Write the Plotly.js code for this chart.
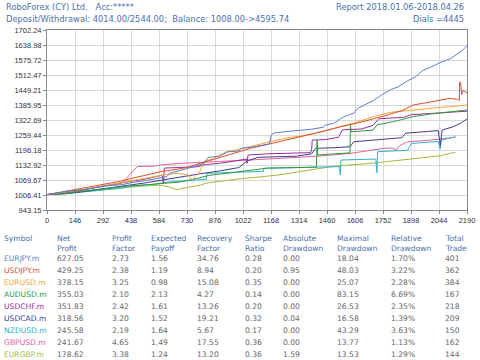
<!DOCTYPE html>
<html><head><meta charset="utf-8">
<script src="https://cdn.plot.ly/plotly-3.0.1.min.js"></script>
<style>html,body{margin:0;padding:0;background:#fff}#c{width:480px;height:360px}</style>
</head><body><div id="c"></div>
<script>
// ---- data ----
const symbols = ["EURJPY.m","USDJPY.m","EURUSD.m","AUDUSD.m","USDCHF.m","USDCAD.m","NZDUSD.m","GBPUSD.m","EURGBP.m"];
const netProfit = ["627.05","429.25","378.15","355.03","351.83","318.56","245.58","241.67","178.62"];
const profitFactor = ["2.73","2.38","3.25","2.10","2.42","3.20","2.19","4.65","3.38"];
const expectedPayoff = ["1.56","1.19","0.98","2.13","1.61","1.52","1.64","1.49","1.24"];
const recoveryFactor = ["34.76","8.94","15.08","4.27","13.26","19.21","5.67","17.55","13.20"];
const sharpeRatio = ["0.28","0.20","0.35","0.14","0.20","0.32","0.17","0.36","0.36"];
const absoluteDrawdown = ["0.00","0.95","0.00","0.00","0.00","0.04","0.00","0.00","1.59"];
const maximalDrawdown = ["18.04","48.03","25.07","83.15","26.53","16.58","43.29","13.77","13.53"];
const relativeDrawdown = ["1.70%","3.22%","2.28%","6.69%","2.35%","1.39%","3.63%","1.13%","1.29%"];
const totalTrade = ["401","362","384","167","218","209","150","162","144"];
const headers = ["Symbol","Net<br>Profit","Profit<br>Factor","Expected<br>Payoff","Recovery<br>Factor","Sharpe<br>Ratio","Absolute<br>Drawdown","Maximal<br>Drawdown","Relative<br>Drawdown","Total<br>Trade"];

const xTicks = [0,146,292,438,584,730,876,1022,1168,1314,1460,1606,1752,1898,2044,2190];
const yTicks = [943.15,1006.41,1069.67,1132.92,1196.18,1259.44,1322.69,1385.95,1449.21,1512.47,1575.72,1638.98,1702.24];

const eurjpyX = [0,60,120,180,250,320,390,450,520,590,625,640,700,760,820,840,900,940,1000,1010,1080,1160,1170,1185,1250,1320,1380,1440,1450,1500,1530,1560,1600,1620,1660,1700,1740,1790,1830,1880,1920,1960,2000,2050,2100,2140,2160,2190];
const eurjpyY = [1008,1016,1024,1028,1036,1046,1050,1060,1068,1078,1084,1098,1110,1125,1140,1165,1170,1188,1192,1203,1210,1222,1260,1268,1274,1279,1284,1292,1300,1310,1328,1340,1352,1372,1388,1404,1426,1450,1462,1488,1504,1532,1545,1565,1580,1600,1612,1636];

const usdjpyX = [0,80,160,240,300,380,450,520,560,600,680,740,800,880,960,1060,1140,1220,1300,1356,1440,1529,1620,1720,1780,1850,1910,1980,2040,2100,2140,2150,2152,2158,2162,2170,2190];
const usdjpyY = [1008,1020,1032,1042,1050,1064,1078,1092,1100,1106,1115,1125,1140,1160,1180,1203,1218,1232,1248,1259,1275,1294,1310,1330,1345,1362,1386,1396,1404,1414,1410,1405,1484,1470,1430,1448,1437];

const eurusdX = [0,70,150,230,300,380,450,520,600,680,740,756,775,800,816,868,900,938,1008,1080,1182,1260,1355,1440,1529,1600,1703,1790,1877,1964,2051,2120,2190];
const eurusdY = [1008,1015,1025,1035,1045,1055,1065,1078,1090,1098,1090,1070,1085,1110,1147,1160,1175,1190,1200,1215,1235,1248,1259,1275,1294,1310,1337,1355,1362,1370,1376,1380,1386];

const audusdX = [0,100,200,300,420,560,700,780,850,940,1000,1100,1150,1300,1405,1408,1412,1500,1580,1582,1586,1700,1720,1807,1910,2000,2100,2190];
const audusdY = [1008,1014,1024,1034,1044,1052,1062,1076,1090,1098,1104,1112,1120,1122,1124,1238,1175,1180,1184,1300,1273,1280,1302,1316,1337,1348,1358,1365];

const usdchfX = [0,90,180,260,330,420,520,600,607,612,700,780,830,900,980,1040,1043,1048,1150,1260,1375,1380,1383,1450,1520,1540,1640,1700,1730,1860,1900,2000,2100,2190];
const usdchfY = [1008,1016,1026,1040,1050,1062,1075,1090,1057,1120,1122,1125,1135,1140,1150,1158,1140,1175,1180,1182,1185,1200,1238,1240,1250,1281,1285,1300,1328,1334,1345,1350,1355,1360];

const usdcadX = [0,100,200,300,400,500,600,700,800,900,1000,1043,1100,1200,1300,1380,1400,1500,1580,1600,1700,1800,1850,1870,1950,2040,2051,2060,2120,2160,2190];
const usdcadY = [1008,1012,1022,1032,1045,1056,1070,1084,1096,1108,1122,1150,1165,1168,1170,1180,1203,1206,1210,1231,1238,1245,1248,1267,1272,1278,1215,1280,1295,1310,1327];

const nzdusdX = [0,100,200,300,380,450,560,620,700,780,830,834,900,1000,1100,1129,1130,1408,1525,1529,1533,1715,1720,1724,1880,1900,2040,2050,2055,2130];
const nzdusdY = [1008,1012,1020,1028,1034,1044,1052,1060,1066,1070,1072,1098,1100,1102,1104,1106,1119,1122,1126,1091,1154,1158,1100,1189,1195,1224,1232,1200,1238,1252];

const gbpusdX = [0,100,200,300,380,400,450,470,560,600,700,800,900,1060,1300,1408,1582,1756,1800,1820,1840,1880,2000,2080,2130];
const gbpusdY = [1008,1018,1030,1044,1054,1064,1110,1126,1128,1134,1140,1145,1148,1154,1165,1170,1182,1203,1205,1195,1215,1231,1238,1244,1250];

const eurgbpX = [0,100,200,300,400,500,590,640,680,700,800,834,900,973,1008,1100,1200,1356,1500,1703,1800,1877,1964,2051,2130];
const eurgbpY = [1008,1016,1024,1030,1038,1044,1048,1040,1028,1034,1048,1057,1064,1070,1075,1082,1090,1110,1128,1141,1150,1158,1165,1172,1187];

const seriesX = [eurjpyX,usdjpyX,eurusdX,audusdX,usdchfX,usdcadX,nzdusdX,gbpusdX,eurgbpX];
const seriesY = [eurjpyY,usdjpyY,eurusdY,audusdY,usdchfY,usdcadY,nzdusdY,gbpusdY,eurgbpY];
const colors = ["#5b7fc2","#d9502c","#f2a736","#2f9b3c","#9c2d9c","#3d3d8f","#2fb2c9","#e2619e","#9cbf36"];

// ---- layout helpers ----
const L=47, T=30, W=420, H=180;
const px = v => (v-L)/W;
const py = v => (T+H-v)/H;

const traces = seriesX.map((xs,i)=>({
  x: xs, y: seriesY[i], type:'scatter', mode:'lines',
  line:{color:colors[i], width:1}, name:symbols[i], hoverinfo:'skip'
}));
// draw the largest last so it sits on top
traces.reverse();

const annotations = [];
const hdrFont = {family:'DejaVu Sans, Verdana, sans-serif', size:8.3, color:'#4a72aa'};
annotations.push({xref:'paper',yref:'paper',x:px(4),y:py(7),xanchor:'left',yanchor:'middle',showarrow:false,text:'RoboForex (CY) Ltd.   Acc:*****',font:hdrFont});
annotations.push({xref:'paper',yref:'paper',x:px(4),y:py(19),xanchor:'left',yanchor:'middle',showarrow:false,text:'Deposit/Withdrawal: 4014.00/2544.00;  Balance: 1008.00->4595.74',font:hdrFont});
annotations.push({xref:'paper',yref:'paper',x:px(466),y:py(7),xanchor:'right',yanchor:'middle',showarrow:false,text:'Report 2018.01.06-2018.04.26',font:hdrFont});
annotations.push({xref:'paper',yref:'paper',x:px(466),y:py(19),xanchor:'right',yanchor:'middle',showarrow:false,text:'Dials =4445',font:hdrFont});

const colX = [2,55,110,149,195,243,281,335,389,443];
const cols = [symbols,netProfit,profitFactor,expectedPayoff,recoveryFactor,sharpeRatio,absoluteDrawdown,maximalDrawdown,relativeDrawdown,totalTrade];
const tblFont = 'DejaVu Sans, Verdana, sans-serif';
headers.forEach((h,j)=>{
  annotations.push({xref:'paper',yref:'paper',x:px(colX[j]),y:py(232),xanchor:'left',yanchor:'top',align:'left',showarrow:false,text:h,
    font:{family:tblFont,size:7.6,color:'#4a72aa'}});
});
cols.forEach((col,j)=>{
  col.forEach((v,i)=>{
    annotations.push({xref:'paper',yref:'paper',x:px(colX[j]),y:py(258.5+12*i),xanchor:'left',yanchor:'middle',showarrow:false,text:v,
      font:{family:tblFont,size:7.6,color: j===0 ? colors[i] : '#666'}});
  });
});

const axisCommon = {showgrid:true, gridcolor:'#d9d9d9', gridwidth:1, showline:true, linecolor:'#8a8a8a', linewidth:1, mirror:true,
  ticks:'outside', ticklen:3, tickcolor:'#8a8a8a', zeroline:false, fixedrange:true,
  tickfont:{family:'Liberation Sans, Arial, sans-serif', size:7.5, color:'#333'}};

const layout = {
  width:480, height:360, margin:{l:L, r:480-L-W, t:T, b:360-T-H}, showlegend:false,
  paper_bgcolor:'#fff', plot_bgcolor:'#fff',
  xaxis: Object.assign({}, axisCommon, {range:[0,2190], tickmode:'array', tickvals:xTicks, ticktext:xTicks.map(String)}),
  yaxis: Object.assign({}, axisCommon, {range:[943.15,1702.24], tickmode:'array', tickvals:yTicks, ticktext:yTicks.map(v=>v.toFixed(2))}),
  annotations: annotations
};
Plotly.newPlot('c', traces, layout, {staticPlot:true, displayModeBar:false});
</script></body></html>
